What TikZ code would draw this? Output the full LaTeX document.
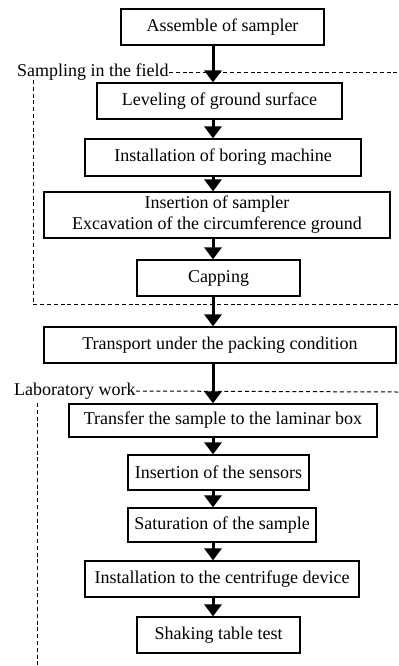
\documentclass[tikz,border=0pt]{standalone}
\usepackage{fontspec}
\setmainfont{Liberation Serif}
\usetikzlibrary{arrows.meta}

\begin{document}
\begin{tikzpicture}[
  x=0.5pt, y=-0.5pt,
  stepbox/.style = {draw, line width=0.6pt, inner sep=0pt, align=center,
                    font=\fontsize{9}{10.5}\selectfont},
  flow/.style    = {-{Triangle[width=8.5pt,length=6pt]}, line width=1.5pt},
  zone/.style    = {dash pattern=on 2pt off 1.4pt, line width=0.5pt},
  lbl/.style     = {font=\fontsize{9}{10.5}\selectfont, inner sep=0pt, anchor=east},
]
\useasboundingbox (0,0) rectangle (398,666);

%% process steps
\node[stepbox, minimum width=203pt*0.5, minimum height=36pt*0.5] (b1) at (222.5,27) {Assemble of sampler};
\node[stepbox, minimum width=245pt*0.5, minimum height=36pt*0.5] (b2) at (219.5,101) {Leveling of ground surface};
\node[stepbox, minimum width=276pt*0.5, minimum height=37pt*0.5] (b3) at (223,157.5) {Installation of boring machine};
\node[stepbox, minimum width=346pt*0.5, minimum height=46pt*0.5] (b4) at (217,215)
  {Insertion of sampler\\Excavation of the circumference ground};
\node[stepbox, minimum width=163pt*0.5, minimum height=36pt*0.5] (b5) at (218.5,278) {Capping};
\node[stepbox, minimum width=352pt*0.5, minimum height=36pt*0.5] (b6) at (220,345) {Transport under the packing condition};
\node[stepbox, minimum width=308pt*0.5, minimum height=33pt*0.5] (b7) at (223,420.5) {Transfer the sample to the laminar box};
\node[stepbox, minimum width=181pt*0.5, minimum height=35pt*0.5] (b8) at (218.5,472.5) {Insertion of the sensors};
\node[stepbox, minimum width=188pt*0.5, minimum height=34pt*0.5] (b9) at (222,525) {Saturation of the sample};
\node[stepbox, minimum width=274pt*0.5, minimum height=36pt*0.5] (b10) at (222,579) {Installation to the centrifuge device};
\node[stepbox, minimum width=163pt*0.5, minimum height=36pt*0.5] (b11) at (218.5,635) {Shaking table test};

%% zones
\node[lbl] (field) at (169,72) {Sampling in the field};
\node[lbl] (lab) at (136,391) {Laboratory work};
\coordinate (fe) at (398,72);
\coordinate (ftop) at (33,80);
\coordinate (fbot) at (33,304);
\coordinate (fbr) at (398,304);
\coordinate (le) at (398,392);
\coordinate (ltop) at (37,403);
\coordinate (lbot) at (37,666);
\draw[zone] (field.east) -- (fe);
\draw[zone] (ftop) -- (fbot) -- (fbr);
\draw[zone] (lab.east) -- (le);
\draw[zone] (ltop) -- (lbot);

%% arrows
\coordinate (ax) at (213,0);
\foreach \a/\b in {b1/b2,b2/b3,b3/b4,b4/b5,b5/b6,b6/b7,b7/b8,b8/b9,b9/b10,b10/b11}
  { \draw[flow] ([yshift=1pt]\a.south -| ax) -- (\b.north -| ax); }

\end{tikzpicture}
\end{document}
